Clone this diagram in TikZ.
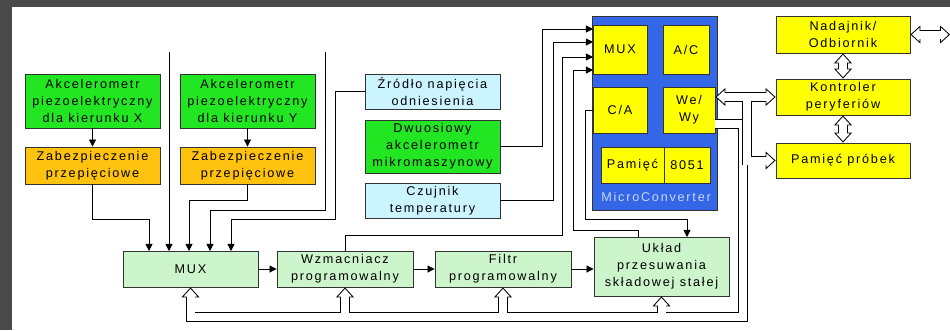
\documentclass[tikz,border=0pt]{standalone}
\usepackage{fontspec}
\usepackage{tikz}
\usetikzlibrary{arrows.meta,calc}
\newfontfamily\blokfont[LetterSpace=14]{Liberation Sans}
\newcommand{\opis}{\blokfont\fontsize{9}{12}\selectfont}
\definecolor{ramka}{RGB}{74,74,74}
\definecolor{zielony}{RGB}{34,230,34}
\definecolor{pomarancz}{RGB}{255,194,14}
\definecolor{blekit}{RGB}{204,244,255}
\definecolor{jasnozielony}{RGB}{204,245,204}
\definecolor{niebieski}{RGB}{52,102,232}
\definecolor{zolty}{RGB}{255,255,0}
\definecolor{napis}{RGB}{200,215,255}
\tikzset{
    pusta/.tip={Triangle[fill=white,length=0.25cm 0,width=0.45cm 0,line width=0.6pt 0]},
    blok/.style={draw=black!80, line width=0.6pt, inner sep=0pt, align=center, font=\opis},
    strz/.style={line width=0.6pt, -{Triangle[length=5pt,width=5pt]}},
    szyna/.style={line width=0.242cm, -{pusta},
        postaction={draw=white, line width=0.2cm, -, shorten >=0.225cm}},
    szyna2/.style={line width=0.242cm, {pusta}-{pusta},
        postaction={draw=white, line width=0.2cm, -, shorten >=0.225cm, shorten <=0.225cm}}
}

\begin{document}
\begin{tikzpicture}[x=0.025cm, y=-0.025cm]
                        \useasboundingbox (0,0) rectangle (950,330);
                        \fill[ramka] (0,0) rectangle (950,330);
                        \fill[white] (12,7) rectangle (950,330);

                        \node[blok, fill=zielony, minimum width=3.375cm, minimum height=1.35cm] (akcX) at (92.5,101) {Akcelerometr\\piezoelektryczny\\dla kierunku X};
                        \node[blok, fill=zielony, minimum width=3.375cm, minimum height=1.35cm] (akcY) at (247.5,101) {Akcelerometr\\piezoelektryczny\\dla kierunku Y};
                        \node[blok, fill=pomarancz, minimum width=3.375cm, minimum height=0.925cm] (zabX) at (92.5,165.5) {Zabezpieczenie\\przepięciowe};
                        \node[blok, fill=pomarancz, minimum width=3.375cm, minimum height=0.925cm] (zabY) at (247.5,165.5) {Zabezpieczenie\\przepięciowe};
                        \node[blok, fill=blekit, minimum width=3.375cm, minimum height=0.875cm] (zrodlo) at (432.5,91.5) {Źródło napięcia\\odniesienia};
                        \node[blok, fill=zielony, minimum width=3.375cm, minimum height=1.325cm] (dwuos) at (432.5,146.5) {Dwuosiowy\\akcelerometr\\mikromaszynowy};
                        \node[blok, fill=blekit, minimum width=3.375cm, minimum height=0.875cm] (czujnik) at (432.5,200.5) {Czujnik\\temperatury};
                        \node[blok, fill=jasnozielony, minimum width=3.375cm, minimum height=0.9cm] (mux) at (190.5,269) {MUX};
                        \node[blok, fill=jasnozielony, minimum width=3.4cm, minimum height=0.9cm] (wzm) at (345,269) {Wzmacniacz\\programowalny};
                        \node[blok, fill=jasnozielony, minimum width=3.4cm, minimum height=0.9cm] (filtr) at (503,269) {Filtr\\programowalny};
                        \node[blok, fill=jasnozielony, minimum width=3.375cm, minimum height=1.475cm] (uklad) at (661.5,266.5) {Układ\\przesuwania\\składowej stałej};

                        \node[blok, fill=niebieski, minimum width=3.125cm, minimum height=4.85cm] (mc) at (654.5,113) {};
                        \node[blok, fill=zolty, minimum width=1.35cm, minimum height=1.225cm] (mcmux) at (620,49.5) {MUX};
                        \node[blok, fill=zolty, minimum width=1.15cm, minimum height=1.225cm] (ac) at (686,49.5) {A/C};
                        \node[blok, fill=zolty, minimum width=1.35cm, minimum height=1.15cm] (ca) at (620,110) {C/A};
                        \node[blok, fill=zolty, minimum width=1.3cm, minimum height=1.15cm] (wewy) at (689,110) {We/\\Wy};
                        \node[blok, fill=zolty, minimum width=1.575cm, minimum height=0.9cm] (pam) at (632.5,165) {Pamięć};
                        \node[blok, fill=zolty, minimum width=1.15cm, minimum height=0.9cm] (i8051) at (687,165) {8051};
                        \node[font=\opis, text=napis, anchor=west, inner sep=0pt] (mcnapis) at (601,197) {MicroConverter};

                        \node[blok, fill=zolty, minimum width=3.35cm, minimum height=0.925cm] (nad) at (843,34.5) {Nadajnik/\\Odbiornik};
                        \node[blok, fill=zolty, minimum width=3.35cm, minimum height=0.9cm] (kon) at (843,97) {Kontroler\\peryferiów};
                        \node[blok, fill=zolty, minimum width=3.35cm, minimum height=0.875cm] (pamp) at (843,160.5) {Pamięć próbek};

                        \foreach \n/\x in {1/149,2/169,3/189,4/210,5/231}
                            \coordinate (we\n) at (\x,251);
                        \foreach \n/\y in {1/29,2/42,3/57,4/70}
                            \coordinate (mwe\n) at (593,\y);
                        \coordinate (gora1) at (169,52);
                        \coordinate (gora2) at (325,52);
                        \coordinate (uk1) at (638,237);
                        \coordinate (uk2) at (687,237);
                        \coordinate (wy1) at (715,124);
                        \coordinate (rozg) at (747,97);
                        \coordinate (wyj) at (950,34.5);

                        \draw[strz] (akcX) -- (zabX);
                        \draw[strz] (akcY) -- (zabY);
                        \draw[strz] (zabX.south) -- (92.5,219) -| (we1);
                        \draw[strz] (gora1) -- (we2);
                        \draw[strz] (zabY.south) -- (247.5,200) -| (we3);
                        \draw[strz] (gora2) -- (325,210) -| (we4);
                        \draw[strz] (zrodlo.west) -| (335,219) -| (we5);
                        \draw[strz] (mux) -- (wzm);
                        \draw[strz] (wzm) -- (filtr);
                        \draw[strz] (filtr.east) -- (filtr.east -| uklad.west);
                        \draw[strz] (dwuos.east) -- (542,146.5) |- (mwe1);
                        \draw[strz] (czujnik.east) -- (553,200.5) |- (mwe2);
                        \draw[strz] (wzm.north) |- (562,235) |- (mwe3);
                        \draw[strz] (uk1) |- (573,230) |- (mwe4);
                        \draw[strz] (ca.west) -| (585,219) -| (uk2);

                        \draw[szyna] (wy1) -| (743,317) coordinate (rog) -| (mux.south);
                        \foreach \b in {wzm,filtr,uklad}
                            \draw[szyna] ($(\b.south |- rog)+(0,-4)$) -- (\b.south);
                        \draw[szyna2] (wewy.east |- kon.west) -- (kon.west);
                        \draw[szyna] ($(rozg)+(0,4)$) |- (pamp.west);
                        \draw[szyna2] (nad) -- (kon);
                        \draw[szyna2] (kon) -- (pamp);
                        \draw[szyna2] (nad.east) -- (wyj);
                    \end{tikzpicture}
\end{document}
